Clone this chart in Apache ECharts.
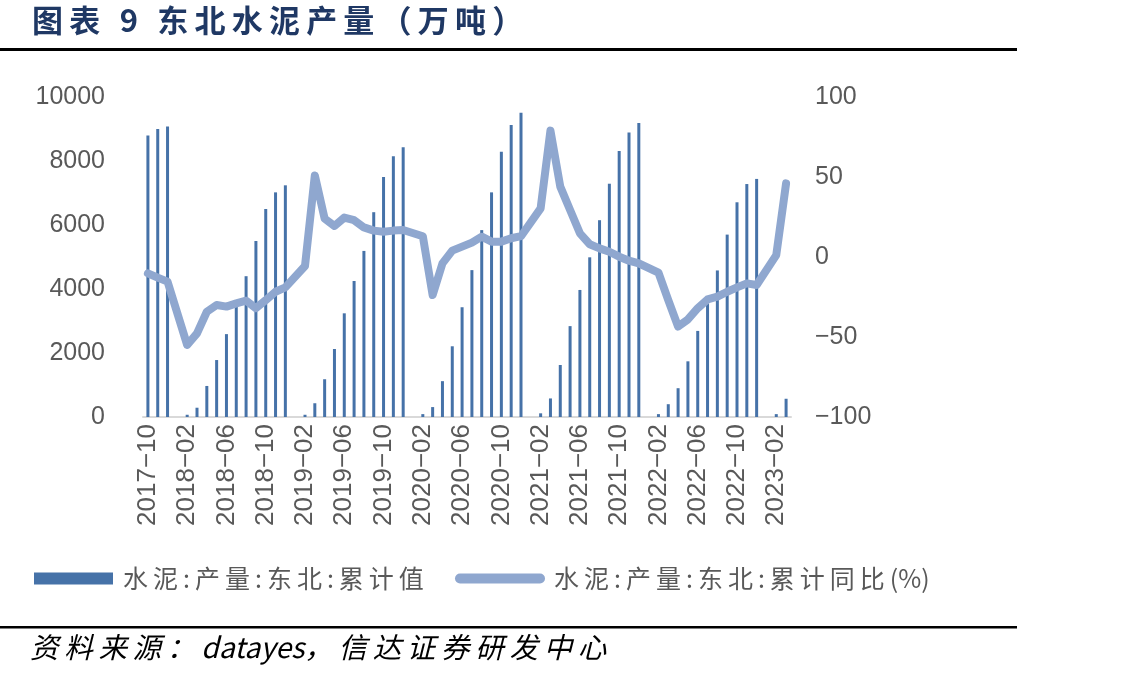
<!DOCTYPE html>
<html>
<head>
<meta charset="utf-8">
<script src="https://cdn.jsdelivr.net/npm/echarts@6/dist/echarts.min.js"></script>
<style>
  html, body { margin: 0; padding: 0; background: #fff; }
  #main { width: 1134px; height: 682px; }
</style>
</head>
<body>
<div id="main"></div>
<script>
const months = [
  '2017-10', '2017-11', '2017-12',
  '2018-01', '2018-02', '2018-03', '2018-04', '2018-05', '2018-06', '2018-07', '2018-08', '2018-09', '2018-10', '2018-11', '2018-12',
  '2019-01', '2019-02', '2019-03', '2019-04', '2019-05', '2019-06', '2019-07', '2019-08', '2019-09', '2019-10', '2019-11', '2019-12',
  '2020-01', '2020-02', '2020-03', '2020-04', '2020-05', '2020-06', '2020-07', '2020-08', '2020-09', '2020-10', '2020-11', '2020-12',
  '2021-01', '2021-02', '2021-03', '2021-04', '2021-05', '2021-06', '2021-07', '2021-08', '2021-09', '2021-10', '2021-11', '2021-12',
  '2022-01', '2022-02', '2022-03', '2022-04', '2022-05', '2022-06', '2022-07', '2022-08', '2022-09', '2022-10', '2022-11', '2022-12',
  '2023-01', '2023-02', '2023-03'
];

// 累计值 (万吨), January has no separate release
const output = [
  8800, 9000, 9080,
  '-', 70, 290, 970, 1780, 2590, 3450, 4400, 5500, 6500, 7020, 7240,
  '-', 70, 430, 1180, 2125, 3240, 4250, 5190, 6400, 7500, 8150, 8430,
  '-', 90, 310, 1120, 2210, 3430, 4590, 5840, 7020, 8290, 9125, 9510,
  '-', 115, 580, 1625, 2840, 3970, 4990, 6150, 7290, 8310, 8890, 9190,
  '-', 90, 400, 900, 1740, 2690, 3550, 4580, 5700, 6710, 7280, 7440,
  '-', 90, 570
];

// 累计同比 (%)
const yoy = [
  -10.2, -12.9, -15.4,
  '-', -55, -47.7, -34.2, -30, -31, -29, -27.3, -32, -27, -21.7, -19,
  '-', -5.6, 51, 24, 19.4, 24.6, 23, 18.5, 16.5, 15.8, 16.5, 16.9,
  '-', 13, -23.8, -4, 4, 6.5, 9, 12.7, 9.6, 9.6, 11.7, 13,
  '-', 30.4, 79, 44, 29.4, 14.8, 8, 5.4, 3.3, 0.2, -2.3, -4,
  '-', -9.8, -27, -43.5, -39, -32, -26.5, -24.8, -21.7, -19, -16.5, -17.5,
  '-', 1.2, 46
];

const barName = '水泥:产量:东北:累计值';
const lineName = '水泥:产量:东北:累计同比(%)';
const titleText = '图表 9 东北水泥产量（万吨）';
const sourceText = '资料来源：datayes，信达证券研发中心';

// the report font is set loosely: thin space between characters
const spaced = (s) => s.split('').join('\u2009');
const spacedCjk = (s) => s.replace(/([^\x00-\x7f]|:)(?=.)/g, '$1\u2009');
const minus = (v) => String(v).replace('-', '\u2212');

const chart = echarts.init(document.getElementById('main'));
const labelFont = "'Liberation Sans', Arial, sans-serif";
const cjkFont = "'Noto Sans CJK SC', sans-serif";

chart.setOption({
  backgroundColor: '#fff',
  animation: false,
  grid: { left: 143, right: 343, top: 97, bottom: 265 },
  legend: [
    {
      data: [{ name: barName, icon: 'rect' }],
      left: 34, top: 566, padding: 0,
      itemWidth: 79, itemHeight: 12, itemGap: 0,
      formatter: spaced,
      textStyle: { fontFamily: cjkFont, fontSize: 25, color: '#595959', padding: [0, 0, 0, 5] }
    },
    {
      data: [{ name: lineName, icon: 'path://M5,0 L85,0 A5,5 0 0 1 85,10 L5,10 A5,5 0 0 1 5,0 Z' }],
      left: 455, top: 566, padding: 0,
      itemWidth: 90, itemHeight: 10, itemGap: 0,
      formatter: spacedCjk,
      textStyle: { fontFamily: cjkFont, fontSize: 25, color: '#595959', padding: [0, 0, 0, 4] }
    }
  ],
  xAxis: {
    type: 'category',
    data: months,
    axisLine: { lineStyle: { color: '#d9d9d9', width: 2 } },
    axisTick: { interval: 0, length: 6, lineStyle: { color: '#d9d9d9', width: 2 } },
    axisLabel: {
      interval: 3, rotate: 90, margin: 7,
      fontFamily: labelFont, fontSize: 26, color: '#595959',
      formatter: (v) => v.replace('-', '\u2212')
    }
  },
  yAxis: [
    {
      type: 'value', min: 0, max: 10000, interval: 2000,
      axisLine: { show: false }, axisTick: { show: false }, splitLine: { show: false },
      axisLabel: { margin: 38, fontFamily: labelFont, fontSize: 25, color: '#595959', formatter: (v) => String(v) }
    },
    {
      type: 'value', min: -100, max: 100, interval: 50,
      axisLine: { show: false }, axisTick: { show: false }, splitLine: { show: false },
      axisLabel: { margin: 24, fontFamily: labelFont, fontSize: 25, color: '#595959', formatter: minus }
    }
  ],
  series: [
    {
      name: barName,
      type: 'bar',
      data: output,
      barWidth: 3,
      itemStyle: { color: '#4672a8' }
    },
    {
      name: lineName,
      type: 'line',
      yAxisIndex: 1,
      data: yoy,
      connectNulls: true,
      showSymbol: false,
      symbol: 'none',
      itemStyle: { color: '#8fa7cf' },
      lineStyle: { color: '#8fa7cf', width: 8, cap: 'round', join: 'round' },
      z: 3
    }
  ],
  graphic: [
    {
      type: 'text', left: 32, top: 5,
      style: { text: spaced(titleText), fontFamily: cjkFont, fontWeight: 'bold', fontSize: 31, fill: '#1f3864' }
    },
    { type: 'rect', shape: { x: 0, y: 48, width: 1017, height: 3 }, style: { fill: '#000' } },
    { type: 'rect', shape: { x: 0, y: 626, width: 1017, height: 2.5 }, style: { fill: '#000' } },
    {
      type: 'text', left: 30, top: 633,
      style: { text: spacedCjk(sourceText), fontFamily: cjkFont, fontStyle: 'italic', fontSize: 28.5, fill: '#000' }
    }
  ]
});
</script>
</body>
</html>
